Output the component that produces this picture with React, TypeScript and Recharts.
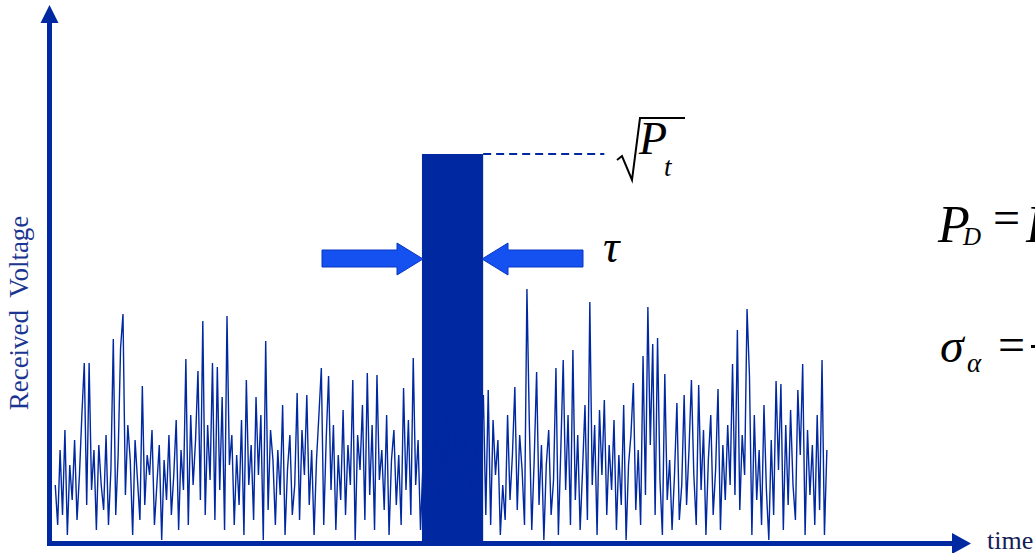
import React from "react";
import { ComposedChart, Line, XAxis, YAxis, ReferenceArea, ReferenceLine } from "recharts";

// received voltage samples (noise), arbitrary units, one per time step
const noise: number[] = [
  60, 20, 95, 30, 115, 10, 80, 45, 105, 25, 70, 130, 182, 40, 182, 55, 95, 15, 100, 60,
  35, 110, 20, 75, 206, 30, 90, 197, 231, 50, 120, 85, 10, 105, 65, 25, 159, 40, 90, 70,
  115, 20, 60, 100, 5, 85, 45, 110, 30, 70, 125, 15, 95, 55, 186, 20, 130, 60, 105, 174,
  45, 224, 30, 120, 65, 182, 25, 178, 55, 148, 15, 229, 80, 110, 20, 90, 40, 125, 10, 165,
  60, 100, 25, 148, 70, 130, 5, 204, 35, 115, 85, 20, 95, 50, 140, 10, 75, 110, 30, 60,
  152, 25, 115, 70, 150, 40, 95, 10, 85, 130, 177, 20, 105, 169, 55, 120, 15, 90, 45, 135,
  30, 100, 60, 165, 5, 110, 75, 140, 25, 172, 50, 120, 15, 170, 65, 95, 35, 130, 10, 85,
  115, 40, 90, 20, 157, 55, 125, 30, 187, 60, 105, 15, 80, 120, 35, 95, 50, 140, 20, 75,
  110, 45, 130, 10, 90, 60, 115, 25, 100, 70, 135, 40, 85, 15, 120, 55, 95, 150, 30, 155,
  20, 125, 70, 105, 10, 60, 25, 130, 45, 90, 158, 35, 110, 75, 20, 256, 120, 15, 85, 173,
  40, 100, 5, 80, 115, 30, 65, 177, 10, 95, 185, 55, 130, 20, 195, 45, 110, 15, 75, 140,
  25, 243, 60, 120, 10, 135, 70, 145, 30, 100, 55, 125, 15, 90, 40, 140, 5, 80, 110, 162,
  35, 95, 20, 189, 50, 238, 100, 201, 30, 207, 65, 10, 171, 45, 85, 15, 70, 142, 25, 60,
  150, 40, 95, 165, 70, 20, 160, 55, 115, 10, 85, 130, 30, 75, 156, 15, 100, 45, 120, 60,
  181, 50, 215, 35, 110, 70, 236, 169, 10, 130, 45, 95, 20, 140, 55, 5, 105, 30, 164, 75,
  161, 15, 120, 40, 135, 60, 25, 155, 90, 181, 10, 115, 50, 100, 20, 130, 35, 185, 10, 95,
];

// transmitted pulse: start / end (time steps) and amplitude sqrt(Pt)
const pulseStart = 151.6;
const pulseEnd = 176.9;
const pulseAmp = 391;
const guideEnd = 227;

const timeDomain: [number, number] = [-3, 379];
const voltDomain: [number, number] = [0, 540];

const data = noise.map((v, i) => ({ t: i, v }));

const BLUE = "#0028a0";
const ARROW = "#1550f0";
const serif: React.CSSProperties = { fontFamily: "Liberation Serif, DejaVu Serif, serif" };
const serifIt: React.CSSProperties = { ...serif, fontStyle: "italic" };

function Overlay() {
  return (
    <svg
      width={1035}
      height={553}
      style={{ position: "absolute", left: 0, top: 0, pointerEvents: "none" }}
    >
      {/* axes */}
      <rect x={47} y={20} width={5} height={526} fill={BLUE} />
      <polygon points="40.5,23 49.5,5 58.5,23" fill={BLUE} />
      <rect x={47} y={541} width={908} height={5} fill={BLUE} />
      <polygon points="952,533 971,543.5 952,554" fill={BLUE} />

      <text x={987} y={549} style={serif} fontSize={26} fill="#141c55">
        time
      </text>
      <text
        x={28}
        y={313}
        transform="rotate(-90 28 313)"
        textAnchor="middle"
        style={serif}
        fontSize={27}
        wordSpacing={6}
        fill="#1c3590"
      >
        Received Voltage
      </text>

      {/* pulse width arrows */}
      <polygon
        points="322,250 397,250 397,243 423,259 397,275 397,267 322,267"
        fill={ARROW}
        stroke="#0a36c0"
        strokeWidth={1}
      />
      <polygon
        points="583,250 508,250 508,243 482,259 508,275 508,267 583,267"
        fill={ARROW}
        stroke="#0a36c0"
        strokeWidth={1}
      />
      <text x={603} y={262} style={serifIt} fontSize={46} fill="#000">
        τ
      </text>

      {/* sqrt(Pt) */}
      <path
        d="M617,160 L622,156 L632,180 L640,118 L685,118"
        fill="none"
        stroke="#000"
        strokeWidth={2}
      />
      <text x={639} y={154} style={serifIt} fontSize={46} fill="#000">
        P
      </text>
      <text x={664} y={176} style={serifIt} fontSize={27} fill="#000">
        t
      </text>

      {/* formulas (cut at the right edge) */}
      <text x={938} y={242} style={serifIt} fontSize={52} fill="#000">
        P
      </text>
      <text x={963} y={245} style={serifIt} fontSize={25} fill="#000">
        D
      </text>
      <text x={993} y={234} style={serif} fontSize={48} fill="#000">
        =
      </text>
      <text x={1026} y={242} style={serifIt} fontSize={52} fill="#000">
        P
      </text>

      <text x={940} y={362} style={serifIt} fontSize={48} fill="#000">
        σ
      </text>
      <text x={967} y={372} style={serifIt} fontSize={27} fill="#000">
        α
      </text>
      <text x={998} y={361} style={serif} fontSize={48} fill="#000">
        =
      </text>
      <rect x={1031} y={345} width={10} height={3} fill="#000" />
    </svg>
  );
}

export default function App() {
  return (
    <div style={{ position: "absolute", left: 0, top: 0, width: 1035, height: 553, background: "#fff" }}>
      <ComposedChart
        width={1035}
        height={553}
        data={data}
        margin={{ top: 5, right: 63, bottom: 8, left: 48 }}
      >
        <XAxis dataKey="t" type="number" domain={timeDomain} hide allowDataOverflow />
        <YAxis type="number" domain={voltDomain} hide allowDataOverflow />
        <Line
          type="linear"
          dataKey="v"
          stroke={BLUE}
          strokeWidth={1.4}
          dot={false}
          activeDot={false}
          isAnimationActive={false}
        />
        <ReferenceArea
          x1={pulseStart}
          x2={pulseEnd}
          y1={0}
          y2={pulseAmp}
          fill={BLUE}
          fillOpacity={1}
          stroke="none"
          ifOverflow="visible"
        />
        <ReferenceLine
          segment={[
            { x: pulseEnd, y: pulseAmp },
            { x: guideEnd, y: pulseAmp },
          ]}
          stroke={BLUE}
          strokeWidth={2}
          strokeDasharray="8 5"
          ifOverflow="visible"
        />
      </ComposedChart>
      <Overlay />
    </div>
  );
}
